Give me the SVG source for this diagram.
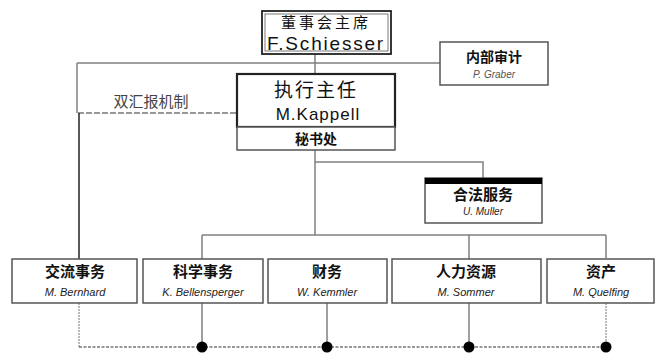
<svg xmlns="http://www.w3.org/2000/svg" width="656" height="353" viewBox="0 0 656 353">
<style>
.box{fill:#fff;stroke:#555;stroke-width:1.5}
.ln{fill:none;stroke:#808080;stroke-width:1.5}
.dot{fill:none;stroke:#333;stroke-width:1.2;stroke-dasharray:3 1.5}
.cj{font-family:"Noto Sans CJK SC","Liberation Sans",sans-serif;text-anchor:middle;fill:#111}
.t{font-size:15px;font-weight:bold}
.n{font-family:"Liberation Sans",Arial,sans-serif;font-style:italic;font-size:11px;text-anchor:middle;fill:#222}
</style>
<rect width="656" height="353" fill="#fff"/>
<g id="connectors">
<path class="ln" d="M77,63 H440 M315,54 V74 M77,63 V113"/>
<path d="M78,113 H237" fill="none" stroke="#777" stroke-width="1.5" stroke-dasharray="6 2"/>
<path d="M79,113 V259" fill="none" stroke="#222" stroke-width="1.5"/>
<path class="ln" d="M315,150 V235 M315,162 H483 V178 M202,235 H606 M202,235 V259 M469,235 V259 M606,235 V258"/>
<path class="ln" d="M202,303 V347 M327,303 V347 M469,303 V347"/>
<path d="M79,303 V347 M606,303 V347" fill="none" stroke="#777" stroke-width="1" stroke-dasharray="2 1"/>
<path class="dot" d="M79,347 H606"/>
<g fill="#000"><circle cx="202" cy="347" r="5.5"/><circle cx="327" cy="347" r="5.5"/><circle cx="469" cy="347" r="5.5"/><circle cx="606" cy="347" r="5.5"/></g>
<text x="151" y="107" class="cj" style="font-size:15px;fill:#444">双汇报机制</text>
</g>
<g id="chairman">
<rect x="262" y="11" width="129" height="43" fill="#fff" stroke="#222" stroke-width="1.8"/>
<rect x="265" y="14" width="123" height="37" fill="none" stroke="#555" stroke-width="0.8"/>
<text x="326" y="28" class="cj" style="font-size:15px;letter-spacing:3px">董事会主席</text>
<text x="326" y="50" style="font-family:'Liberation Sans',Arial,sans-serif;font-size:19px;letter-spacing:1.8px;text-anchor:middle;fill:#111">F.Schiesser</text>
</g>
<g id="audit">
<rect x="440" y="42" width="108" height="43" class="box"/>
<text x="494" y="62" class="cj" style="font-size:14px;font-weight:bold">内部审计</text>
<text x="494" y="78" class="n" style="font-size:10px;fill:#555">P. Graber</text>
</g>
<g id="ceo">
<rect x="237" y="74" width="158" height="53" fill="#fff" stroke="#222" stroke-width="2.2"/>
<text x="316" y="97" class="cj" style="font-size:19px;letter-spacing:2px">执行主任</text>
<text x="318" y="120" style="font-family:'Liberation Sans',Arial,sans-serif;font-size:17px;letter-spacing:1px;text-anchor:middle;fill:#111">M.Kappell</text>
</g>
<g id="secretariat">
<rect x="237" y="127" width="158" height="23" class="box"/>
<text x="316" y="144" class="cj" style="font-size:14px;font-weight:bold">秘书处</text>
</g>
<g id="legal">
<rect x="425" y="178" width="117" height="45" class="box"/>
<rect x="425" y="178" width="117" height="6" fill="#000"/>
<text x="483" y="200" class="cj t">合法服务</text>
<text x="483" y="215" class="n" style="font-size:10px">U. Muller</text>
</g>
<g id="exchange">
<rect x="12" y="259" width="125" height="44" class="box"/>
<text x="75" y="277" class="cj t">交流事务</text>
<text x="75" y="296" class="n">M. Bernhard</text>
</g>
<g id="science">
<rect x="143" y="259" width="120" height="44" class="box"/>
<text x="203" y="277" class="cj t">科学事务</text>
<text x="203" y="296" class="n">K. Bellensperger</text>
</g>
<g id="finance">
<rect x="268" y="259" width="119" height="44" class="box"/>
<text x="327" y="277" class="cj t">财务</text>
<text x="327" y="296" class="n">W. Kemmler</text>
</g>
<g id="hr">
<rect x="392" y="259" width="149" height="44" class="box"/>
<text x="466" y="277" class="cj t">人力资源</text>
<text x="466" y="296" class="n">M. Sommer</text>
</g>
<g id="assets">
<rect x="547" y="259" width="107" height="44" class="box"/>
<text x="601" y="277" class="cj t">资产</text>
<text x="601" y="296" class="n">M. Quelfing</text>
</g>
</svg>
